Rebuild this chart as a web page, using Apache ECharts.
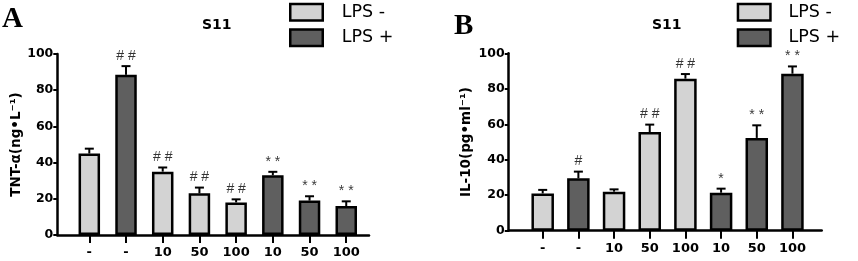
<!DOCTYPE html>
<html><head><meta charset="utf-8">
<script src="https://cdn.jsdelivr.net/npm/echarts@6/dist/echarts.min.js"></script>
<style>html,body{margin:0;padding:0;background:#fff}#c{width:858px;height:261px}</style>
</head><body><div id="c"></div>
<script>
// ---- data ----
const categories = ['-', '-', '10', '50', '100', '10', '50', '100'];
const lpsGroup = ['-', '+', '-', '-', '-', '+', '+', '+'];
const seriesNames = ['LPS -', 'LPS +'];
const tntValues = [45, 88.5, 35, 23, 18, 33, 19, 16];
const tntErrors = [2.7, 4.8, 2.3, 3.2, 1.7, 1.9, 2.4, 2.6];
const tntMarks = ['', '# #', '# #', '# #', '# #', '* *', '* *', '* *'];
const il10Values = [21, 29.5, 22, 55.6, 85.7, 21.4, 52.3, 88.5];
const il10Errors = [2, 3.8, 1.3, 4.2, 2.6, 2.3, 7.1, 4.1];
const il10Marks = ['', '#', '', '# #', '# #', '*', '* *', '* *'];
const yTickValues = [0, 20, 40, 60, 80, 100];
const panelLetters = ['A', 'B'];
const panelTitles = ['S11', 'S11'];
const yNames = ['TNT-α(ng•L⁻¹)', 'IL-10(pg•ml⁻¹)'];

// ---- layout / style ----
const FONT = 'DejaVu Sans';
const fills = { '-': '#d3d3d3', '+': '#5f5f5f' };
const panels = [
  { values: tntValues, errors: tntErrors, marks: tntMarks,
    grid: { left: 57.3, top: 54, width: 311.7, height: 181 }, xMin: -0.872, xMax: 7.62,
    barWidth: 21.5, nameGap: 34, legend: { left: 289, top: 2.7, pad: 14 },
    letter: { left: 2, top: 5 }, title: { left: 202, top: 18 } },
  { values: il10Values, errors: il10Errors, marks: il10Marks,
    grid: { left: 508.7, top: 53.3, width: 313, height: 177.4 }, xMin: -0.953, xMax: 7.82,
    barWidth: 22.5, nameGap: 35, legend: { left: 736.7, top: 2.7, pad: 13 },
    letter: { left: 454, top: 12 }, title: { left: 652, top: 18 } }
];
const idx = categories.map((c, i) => i);

const option = { animation: false, backgroundColor: '#fff',
  grid: [], xAxis: [], yAxis: [], series: [], legend: [], title: [] };

panels.forEach((p, k) => {
  option.grid.push(Object.assign({ containLabel: false }, p.grid));
  option.xAxis.push({
    type: 'value', gridIndex: k, min: p.xMin, max: p.xMax,
    splitLine: { show: false },
    axisLine: { show: true, onZero: false, lineStyle: { color: '#000', width: 2.5 } },
    axisTick: { show: true, customValues: idx, length: 8, lineStyle: { color: '#000', width: 2 } },
    axisLabel: { show: true, customValues: idx, margin: 11, color: '#000', fontFamily: FONT,
      fontWeight: 'bold', fontSize: 13, formatter: v => categories[Math.round(v)] }
  });
  option.yAxis.push({
    type: 'value', gridIndex: k, min: 0, max: 100, interval: 20,
    splitLine: { show: false },
    axisLine: { show: true, onZero: false, lineStyle: { color: '#000', width: 2.5 } },
    axisTick: { show: true, length: 4, lineStyle: { color: '#000', width: 2 } },
    axisLabel: { margin: 4, color: '#000', fontFamily: FONT, fontWeight: 'bold', fontSize: 12.5 },
    name: yNames[k], nameLocation: 'middle', nameRotate: 90, nameGap: p.nameGap,
    nameTextStyle: { color: '#000', fontFamily: FONT, fontWeight: 'bold', fontSize: 13.5 }
  });
  ['-', '+'].forEach((g, gi) => {
    option.series.push({
      type: 'bar', name: seriesNames[gi], xAxisIndex: k, yAxisIndex: k,
      barWidth: p.barWidth, barGap: '-100%', z: 2,
      itemStyle: { color: fills[g], borderColor: '#000', borderWidth: 2.5 },
      data: idx.filter(i => lpsGroup[i] === g).map(i => [i, p.values[i]])
    });
  });
  option.series.push({
    type: 'custom', xAxisIndex: k, yAxisIndex: k, z: 3, silent: true,
    data: idx.map(i => [i, p.values[i], p.errors[i]]),
    renderItem: (params, api) => {
      const x = api.value(0), v = api.value(1), e = api.value(2);
      const a = api.coord([x, v]), b = api.coord([x, v + e]);
      return { type: 'group', children: [
        { type: 'line', shape: { x1: a[0], y1: a[1], x2: b[0], y2: b[1] }, style: { stroke: '#000', lineWidth: 2 } },
        { type: 'line', shape: { x1: b[0] - 4.5, y1: b[1], x2: b[0] + 4.5, y2: b[1] }, style: { stroke: '#000', lineWidth: 2 } }
      ] };
    }
  });
  option.series.push({
    type: 'scatter', xAxisIndex: k, yAxisIndex: k, symbolSize: 0, z: 4, silent: true,
    data: idx.filter(i => p.marks[i]).map(i => ({ value: [i, p.values[i] + p.errors[i]], mark: p.marks[i] })),
    label: { show: true, position: 'top', distance: 3, color: '#000', fontFamily: 'Liberation Sans',
      fontSize: 14, formatter: d => d.data.mark }
  });
  option.legend.push({
    left: p.legend.left, top: p.legend.top, orient: 'vertical', data: seriesNames, padding: 0,
    itemWidth: 32.5, itemHeight: 16.5, itemGap: 6.6, icon: 'rect', selectedMode: false,
    itemStyle: { borderColor: '#000', borderWidth: 2.5 },
    textStyle: { color: '#000', fontFamily: FONT, fontSize: 17.5, padding: [0, 0, 0, p.legend.pad] }
  });
  option.title.push({ text: panelLetters[k], left: p.letter.left, top: p.letter.top, padding: 0,
    textStyle: { fontFamily: 'Liberation Serif', fontWeight: 'bold', fontSize: 29, color: '#000' } });
  option.title.push({ text: panelTitles[k], left: p.title.left, top: p.title.top, padding: 0,
    textStyle: { fontFamily: FONT, fontWeight: 'bold', fontSize: 14, color: '#000' } });
});

const chart = echarts.init(document.getElementById('c'), null, { renderer: 'canvas' });
chart.setOption(option);
</script></body></html>
